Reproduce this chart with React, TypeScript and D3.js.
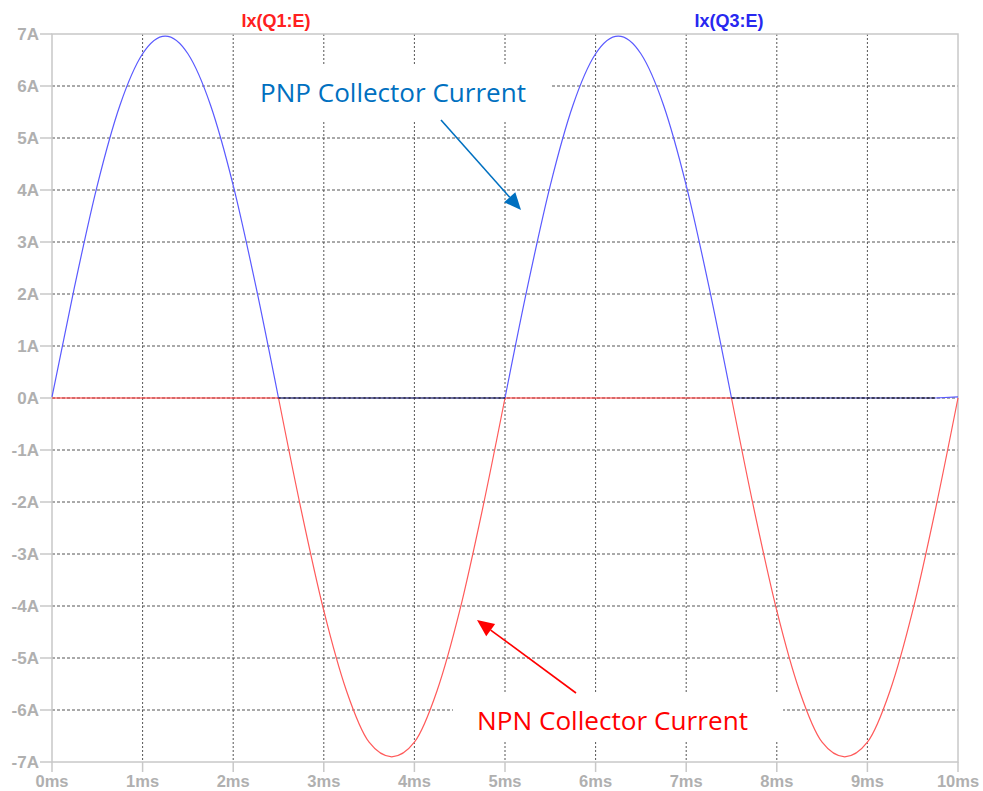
import React from "react";
import * as d3 from "d3";

const timeMs = [0, 0.25, 0.5, 0.75, 1, 1.25, 1.5, 1.75, 2, 2.25, 2.5, 2.75, 3, 3.25, 3.5, 3.75, 4, 4.25, 4.5, 4.75, 5, 5.25, 5.5, 5.75, 6, 6.25, 6.5, 6.75, 7, 7.25, 7.5, 7.75, 8, 8.25, 8.5, 8.75, 9, 9.25, 9.5, 9.75, 10];
const q3Values = [0.02, 2.15, 4.09, 5.63, 6.62, 6.96, 6.62, 5.63, 4.09, 2.15, 0, 0, 0, 0, 0, 0, 0, 0, 0, 0, 0, 2.15, 4.09, 5.63, 6.62, 6.96, 6.62, 5.63, 4.09, 2.15, 0, 0, 0, 0, 0, 0, 0, 0, 0, 0, 0.02];
const q1Values = [0, 0, 0, 0, 0, 0, 0, 0, 0, 0, 0, -2.15, -4.09, -5.63, -6.62, -6.9, -6.62, -5.63, -4.09, -2.15, 0, 0, 0, 0, 0, 0, 0, 0, 0, 0, 0, -2.15, -4.09, -5.63, -6.62, -6.9, -6.62, -5.63, -4.09, -2.15, 0];
const xTicks = [0, 1, 2, 3, 4, 5, 6, 7, 8, 9, 10];
const yTicks = [-7, -6, -5, -4, -3, -2, -1, 0, 1, 2, 3, 4, 5, 6, 7];
const seriesNames = ["Ix(Q1:E)", "Ix(Q3:E)"];
const annotations = ["PNP Collector Current", "NPN Collector Current"];

const W = 983, H = 791;
const L = 52, R = 958, T = 34, B = 762;

type Seg = { flat: boolean; pts: [number, number][] };

function segments(vals: number[]): Seg[] {
  const segs: Seg[] = [];
  for (let i = 0; i < vals.length - 1; i++) {
    const flat = vals[i] === 0 && vals[i + 1] === 0;
    const last = segs[segs.length - 1];
    if (last && last.flat === flat) {
      last.pts.push([timeMs[i + 1], vals[i + 1]]);
    } else {
      segs.push({ flat, pts: [[timeMs[i], vals[i]], [timeMs[i + 1], vals[i + 1]]] });
    }
  }
  return segs;
}

function Arrow({ x1, y1, x2, y2, color }: { x1: number; y1: number; x2: number; y2: number; color: string }) {
  const len = Math.hypot(x2 - x1, y2 - y1);
  const ux = (x2 - x1) / len, uy = (y2 - y1) / len;
  const hl = 17, hw = 7.5;
  const bx = x2 - ux * hl, by = y2 - uy * hl;
  const p = [
    [x2, y2],
    [bx - uy * hw, by + ux * hw],
    [bx + uy * hw, by - ux * hw],
  ];
  return (
    <g>
      <line x1={x1} y1={y1} x2={bx} y2={by} stroke={color} strokeWidth={1.6} />
      <polygon points={p.map((q) => q.join(",")).join(" ")} fill={color} />
    </g>
  );
}

export default function App() {
  const x = d3.scaleLinear().domain([0, 10]).range([L, R]);
  const y = d3.scaleLinear().domain([-7, 7]).range([B, T]);
  const curve = d3.line<[number, number]>().x((d) => x(d[0])).y((d) => y(d[1])).curve(d3.curveMonotoneX);
  const flatLine = d3.line<[number, number]>().x((d) => x(d[0])).y((d) => y(d[1]));
  const redSegs = segments(q1Values);
  const blueSegs = segments(q3Values);
  const axisFont = "Liberation Sans, Arial, sans-serif";
  const grid = "#555";
  return (
    <svg width={W} height={H} style={{ position: "absolute", left: 0, top: 0, background: "#fff" }}>
      <rect x={0} y={0} width={W} height={H} fill="#fff" />
      {yTicks.filter((t) => t > -7 && t < 7).map((t) => (
        <line key={"h" + t} x1={L} x2={R} y1={y(t)} y2={y(t)} stroke={grid} strokeWidth={1} strokeDasharray="3,2" />
      ))}
      {xTicks.filter((t) => t > 0 && t < 10).map((t) => (
        <line key={"v" + t} x1={x(t)} x2={x(t)} y1={T} y2={B} stroke={grid} strokeWidth={1} strokeDasharray="2,2" />
      ))}
      <rect x={234} y={65} width={318} height={55} fill="#fff" />
      <rect x={453} y={693} width={330} height={47} fill="#fff" />
      <rect x={L} y={T} width={R - L} height={B - T} fill="none" stroke="#c8c8c8" strokeWidth={1.5} />
      {yTicks.map((t) => (
        <g key={"yt" + t}>
          <line x1={L - 12} x2={L} y1={y(t)} y2={y(t)} stroke="#c8c8c8" strokeWidth={1.5} />
          <text x={39} y={y(t) + 6} textAnchor="end" fontFamily={axisFont} fontWeight="bold" fontSize={17} fill="#b0b0b0">
            {t + "A"}
          </text>
        </g>
      ))}
      {xTicks.map((t) => (
        <g key={"xt" + t}>
          <line x1={x(t)} x2={x(t)} y1={B} y2={B + 10} stroke="#c8c8c8" strokeWidth={1.5} />
          <text x={x(t)} y={787} textAnchor="middle" fontFamily={axisFont} fontWeight="bold" fontSize={16.5} fill="#b0b0b0">
            {t + "ms"}
          </text>
        </g>
      ))}
      {redSegs.map((s, i) => (
        <path key={"r" + i} d={(s.flat ? flatLine : curve)(s.pts) || ""} fill="none" stroke={s.flat ? "#ff2a2a" : "#ff5a5a"} strokeWidth={1.2} />
      ))}
      {blueSegs.map((s, i) => (
        <path key={"b" + i} d={(s.flat ? flatLine : curve)(s.pts) || ""} fill="none" stroke={s.flat ? "#2a2aa0" : "#5a5aff"} strokeWidth={1.2} />
      ))}
      {blueSegs.filter((s) => s.flat).map((s, i) => (
        <path key={"bd" + i} d={flatLine(s.pts) || ""} fill="none" stroke="#111" strokeWidth={1} strokeDasharray="3,2" />
      ))}
      <text x={276} y={27} textAnchor="middle" fontFamily={axisFont} fontWeight="bold" fontSize={18} fill="#ff2020">{seriesNames[0]}</text>
      <text x={729} y={27} textAnchor="middle" fontFamily={axisFont} fontWeight="bold" fontSize={18} fill="#2828f0">{seriesNames[1]}</text>
      <text x={260} y={102} fontFamily="Open Sans, Noto Sans, sans-serif" fontSize={25} fill="#0070c0" textLength={266} lengthAdjust="spacingAndGlyphs">{annotations[0]}</text>
      <Arrow x1={441} y1={120} x2={521} y2={210} color="#0070c0" />
      <text x={477} y={730} fontFamily="Open Sans, Noto Sans, sans-serif" fontSize={25} fill="#ff0000" textLength={271} lengthAdjust="spacingAndGlyphs">{annotations[1]}</text>
      <Arrow x1={576} y1={693} x2={477} y2={620} color="#ff0000" />
    </svg>
  );
}
